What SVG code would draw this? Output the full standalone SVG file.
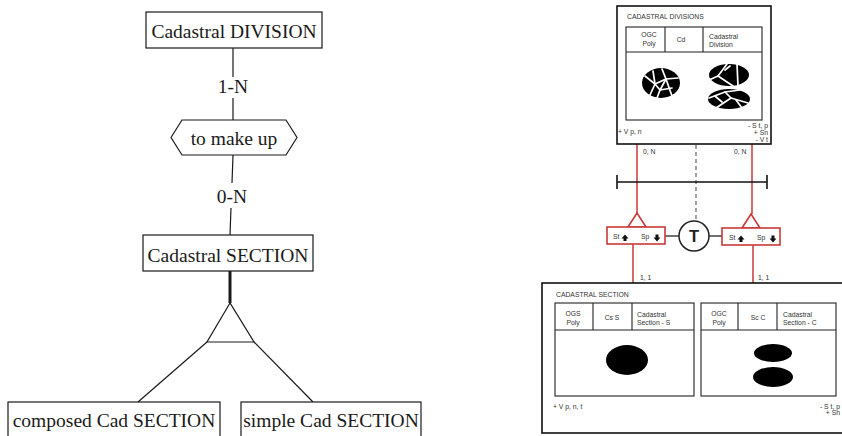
<svg xmlns="http://www.w3.org/2000/svg" width="842" height="436" viewBox="0 0 842 436">
  <style>
    .er { font-family: "Liberation Serif", "Times New Roman", serif; font-size: 19.5px; fill: #1a1a1a; text-anchor: middle; }
    .box { fill: #fff; stroke: #1a1a1a; stroke-width: 1.2; }
    .ln { fill: none; stroke: #1a1a1a; stroke-width: 1.2; }
    .sm { font-family: "Liberation Sans", Arial, sans-serif; font-size: 6.8px; fill: #333; }
    .mid { text-anchor: middle; }
    .end { text-anchor: end; }
    .frame { fill: #fff; stroke: #111; stroke-width: 1.6; }
    .tbl { fill: #fff; stroke: #222; stroke-width: 1.1; }
    .red { fill: none; stroke: #c83a3a; stroke-width: 1.5; }
    .redbox { fill: #fff; stroke: #c83a3a; stroke-width: 1.6; }
    .crack { fill: none; stroke: #fff; stroke-width: 1.7; stroke-linecap: round; stroke-linejoin: round; }
  </style>

  <!-- ===== Entity-relationship view ===== -->
  <g id="er-connectors">
    <line class="ln" x1="233" y1="48" x2="233" y2="77"/>
    <line class="ln" x1="233" y1="98" x2="233" y2="120"/>
    <line class="ln" x1="233" y1="155" x2="232" y2="183"/>
    <line class="ln" x1="231" y1="208" x2="230" y2="235"/>
    <line x1="230" y1="271" x2="230" y2="303" stroke="#1a1a1a" stroke-width="3"/>
    <line class="ln" x1="207" y1="342" x2="138" y2="402"/>
    <line class="ln" x1="254" y1="342" x2="313" y2="402"/>
    <text class="er" x="233" y="93">1-N</text>
    <text class="er" x="232" y="203">0-N</text>
  </g>

  <g id="cadastral-division">
    <rect class="box" x="146" y="12" width="176" height="36"/>
    <text class="er" x="234" y="38">Cadastral DIVISION</text>
  </g>

  <g id="to-make-up">
    <polygon class="box" points="171,137.5 182,120 286,120 297,137.5 286,155 182,155"/>
    <text class="er" x="234" y="145">to make up</text>
  </g>

  <g id="cadastral-section">
    <rect class="box" x="143" y="235" width="170" height="36"/>
    <text class="er" x="228" y="262">Cadastral SECTION</text>
  </g>

  <g id="specialisation">
    <polygon class="box" points="230,303 207,342 254,342"/>
  </g>

  <g id="composed-section">
    <rect class="box" x="8" y="402" width="212" height="40"/>
    <text class="er" x="114" y="427">composed Cad SECTION</text>
  </g>

  <g id="simple-section">
    <rect class="box" x="241" y="402" width="180" height="40"/>
    <text class="er" x="331" y="427">simple Cad SECTION</text>
  </g>

  <!-- ===== Object view ===== -->
  <g id="obj-connectors">
    <line class="red" x1="637" y1="120" x2="637" y2="213"/>
    <line class="red" x1="752" y1="120" x2="752" y2="214"/>
    <line x1="696" y1="124" x2="696" y2="221" stroke="#666" stroke-width="1.2" stroke-dasharray="4 3"/>
    <text class="sm" x="643" y="154">0, N</text>
    <text class="sm" x="734" y="154">0, N</text>
    <!-- time axis -->
    <line x1="617" y1="182" x2="767" y2="182" stroke="#111" stroke-width="1.6"/>
    <line x1="617" y1="175" x2="617" y2="189" stroke="#111" stroke-width="1.6"/>
    <line x1="767" y1="175" x2="767" y2="189" stroke="#111" stroke-width="1.6"/>
    <line x1="665" y1="236" x2="679" y2="236" stroke="#333" stroke-width="1.4"/>
    <line x1="709" y1="236" x2="722" y2="236" stroke="#333" stroke-width="1.4"/>
    <line class="red" x1="633" y1="244" x2="633" y2="303"/>
    <line class="red" x1="753" y1="245" x2="753" y2="303"/>
    <text class="sm" x="640" y="280">1, 1</text>
    <text class="sm" x="758" y="280">1, 1</text>
  </g>

  <g id="cadastral-divisions">
    <rect class="frame" x="617" y="6" width="154" height="138"/>
    <text class="sm" x="627" y="19">CADASTRAL DIVISIONS</text>
    <rect class="tbl" x="626" y="27" width="136" height="93"/>
    <line class="tbl" x1="626" y1="52" x2="762" y2="52"/>
    <line class="tbl" x1="665" y1="27" x2="665" y2="52"/>
    <line class="tbl" x1="703" y1="27" x2="703" y2="52"/>
    <text class="sm mid" x="649" y="37">OGC</text>
    <text class="sm mid" x="649" y="46">Poly</text>
    <text class="sm mid" x="681" y="42">Cd</text>
    <text class="sm" x="709" y="39">Cadastral</text>
    <text class="sm" x="709" y="47">Division</text>
    <!-- fragmented parcels -->
    <ellipse cx="661" cy="83" rx="19" ry="15" fill="#000"/>
    <polyline class="crack" points="645,76 655,84 650,95"/>
    <polyline class="crack" points="655,84 666,79 678,78"/>
    <polyline class="crack" points="662,69 666,79 672,96"/>
    <polyline class="crack" points="666,79 660,90 657,98"/>
    <polyline class="crack" points="655,84 660,90 672,88"/>
    <line class="crack" x1="653" y1="71" x2="655" y2="84"/>
    <ellipse cx="729" cy="75" rx="20" ry="11" fill="#000"/>
    <polyline class="crack" points="727,64 718,76 733,86"/>
    <polyline class="crack" points="718,76 709,80"/>
    <line class="crack" x1="737" y1="64" x2="738" y2="86"/>
    <line class="crack" x1="725" y1="70" x2="730" y2="66"/>
    <ellipse cx="729" cy="99" rx="21" ry="10" fill="#000"/>
    <polyline class="crack" points="709,98 725,92 740,90"/>
    <polyline class="crack" points="716,108 731,98 748,103"/>
    <line class="crack" x1="725" y1="92" x2="731" y2="98"/>
    <line class="crack" x1="736" y1="100" x2="742" y2="108"/>
    <line class="crack" x1="715" y1="96" x2="722" y2="102"/>
    <text class="sm" x="618" y="134">+ V p, n</text>
    <text class="sm end" x="768" y="128">- S t, p</text>
    <text class="sm end" x="768" y="135">+ Sn</text>
    <text class="sm end" x="768" y="142">- V t</text>
  </g>

  <g id="event-left">
    <polygon class="redbox" points="637,213 628,227 646,227"/>
    <rect class="redbox" x="607" y="227" width="58" height="17"/>
    <text class="sm" x="613" y="239">St</text>
    <path d="M625,234.5 L628.5,238.5 H626.5 V241 H623.5 V238.5 H621.5 Z" fill="#111"/>
    <text class="sm" x="641" y="239">Sp</text>
    <path d="M657,241.5 L660.5,237.5 H658.5 V234.5 H655.5 V237.5 H653.5 Z" fill="#111"/>
  </g>

  <g id="time">
    <circle cx="694" cy="236" r="15" fill="#fff" stroke="#222" stroke-width="1.5"/>
    <text x="694" y="242" font-family="Liberation Sans, Arial, sans-serif" font-size="16.5" font-weight="bold" fill="#222" text-anchor="middle">T</text>
  </g>

  <g id="event-right">
    <polygon class="redbox" points="751,214 742,228 760,228"/>
    <rect class="redbox" x="722" y="228" width="58" height="17"/>
    <text class="sm" x="729" y="240">St</text>
    <path d="M741,235.5 L744.5,239.5 H742.5 V242 H739.5 V239.5 H737.5 Z" fill="#111"/>
    <text class="sm" x="757" y="240">Sp</text>
    <path d="M773,242.5 L776.5,238.5 H774.5 V235.5 H771.5 V238.5 H769.5 Z" fill="#111"/>
  </g>

  <g id="cadastral-sections">
    <rect class="frame" x="542" y="283" width="306" height="150"/>
    <text class="sm" x="556" y="297">CADASTRAL SECTION</text>
  </g>

  <g id="simple-section-obj">
    <rect class="tbl" x="555" y="303" width="139" height="93"/>
    <line class="tbl" x1="555" y1="330" x2="694" y2="330"/>
    <line class="tbl" x1="593" y1="303" x2="593" y2="330"/>
    <line class="tbl" x1="632" y1="303" x2="632" y2="330"/>
    <text class="sm mid" x="573" y="316">OGS</text>
    <text class="sm mid" x="573" y="325">Poly</text>
    <text class="sm mid" x="612" y="320">Cs S</text>
    <text class="sm" x="637" y="317">Cadastral</text>
    <text class="sm" x="637" y="325">Section - S</text>
    <ellipse cx="627" cy="360" rx="21" ry="15" fill="#000"/>
    <text class="sm" x="553" y="409">+ V p, n, t</text>
  </g>

  <g id="composed-section-obj">
    <rect class="tbl" x="701" y="303" width="135" height="93"/>
    <line class="tbl" x1="701" y1="330" x2="836" y2="330"/>
    <line class="tbl" x1="738" y1="303" x2="738" y2="330"/>
    <line class="tbl" x1="777" y1="303" x2="777" y2="330"/>
    <text class="sm mid" x="719" y="316">OGC</text>
    <text class="sm mid" x="719" y="325">Poly</text>
    <text class="sm mid" x="758" y="320">Sc C</text>
    <text class="sm" x="783" y="317">Cadastral</text>
    <text class="sm" x="783" y="325">Section - C</text>
    <ellipse cx="773" cy="353" rx="19" ry="9" fill="#000"/>
    <ellipse cx="773" cy="377" rx="20" ry="10" fill="#000"/>
    <text class="sm end" x="840" y="409">- S t, p</text>
    <text class="sm end" x="840" y="415">+ Sn</text>
  </g>
</svg>
